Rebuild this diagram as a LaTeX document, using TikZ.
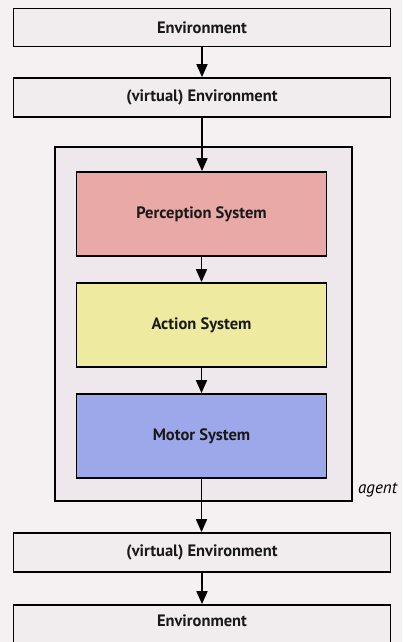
\documentclass[tikz,border=0pt]{standalone}
\usepackage{fontspec}
\setmainfont{PT Sans}
\usetikzlibrary{arrows.meta}
\definecolor{paper}{HTML}{F5F1F2}
\definecolor{envfill}{HTML}{F1ECEE}
\definecolor{agentfill}{HTML}{EEE8EC}
\definecolor{percfill}{HTML}{E9AAA7}
\definecolor{actfill}{HTML}{EEEBA0}
\definecolor{motfill}{HTML}{9DA8EA}
\tikzset{
  lbl/.style={font=\bfseries\fontsize{16.5}{18}\selectfont, text=black!90},
  box/.style={draw=black, line width=1.8pt, inner sep=0pt, lbl},
  envbox/.style={box, fill=envfill, minimum width=377pt},
  sysbox/.style={box, minimum width=250pt, minimum height=84pt},
  flow/.style={line width=1.7pt, -{Triangle[length=13pt,width=11pt]}}
}
\begin{document}
\begin{tikzpicture}[x=1pt, y=-1pt]
  \useasboundingbox (0,0) rectangle (402,642);
  \fill[paper] (0,0) rectangle (402,642);
  \begin{scope}
    \clip (0,0) rectangle (402,642);
    % outer environment chain
    \node[envbox, minimum height=38pt] (env1) at (202,27.5) {Environment};
    \node[envbox, minimum height=39pt] (venv1) at (202,97.5) {(virtual) Environment};
    % agent container
    \node[draw=black, line width=1.8pt, fill=agentfill,
          minimum width=297pt, minimum height=354pt] (agent) at (203.5,324) {};
    \node[font=\itshape\fontsize{17}{19}\selectfont, anchor=west, inner sep=0pt] (agentlbl) at (358,490) {agent};
    % internal systems
    \node[sysbox, fill=percfill] (perc) at (201.5,214) {Perception System};
    \node[sysbox, fill=actfill]  (act)  at (201.5,325) {Action System};
    \node[sysbox, fill=motfill]  (mot)  at (201.5,436) {Motor System};
    % output environment chain
    \node[envbox, minimum height=39pt] (venv2) at (202,552.5) {(virtual) Environment};
    \node[envbox, minimum height=44pt] (env2) at (202,627) {};
    \node[lbl] (env2lbl) at (202,621) {Environment};
    % connectors
    \draw[flow] (env1.south)  -- (env1.south  |- venv1.north);
    \draw[flow] (venv1.south) -- (venv1.south |- perc.north);
    \draw[flow] (perc.south)  -- (perc.south  |- act.north);
    \draw[flow] (act.south)   -- (act.south   |- mot.north);
    \draw[flow] (mot.south)   -- (mot.south   |- venv2.north);
    \draw[flow] (venv2.south) -- (venv2.south |- env2.north);
  \end{scope}
\end{tikzpicture}
\end{document}
